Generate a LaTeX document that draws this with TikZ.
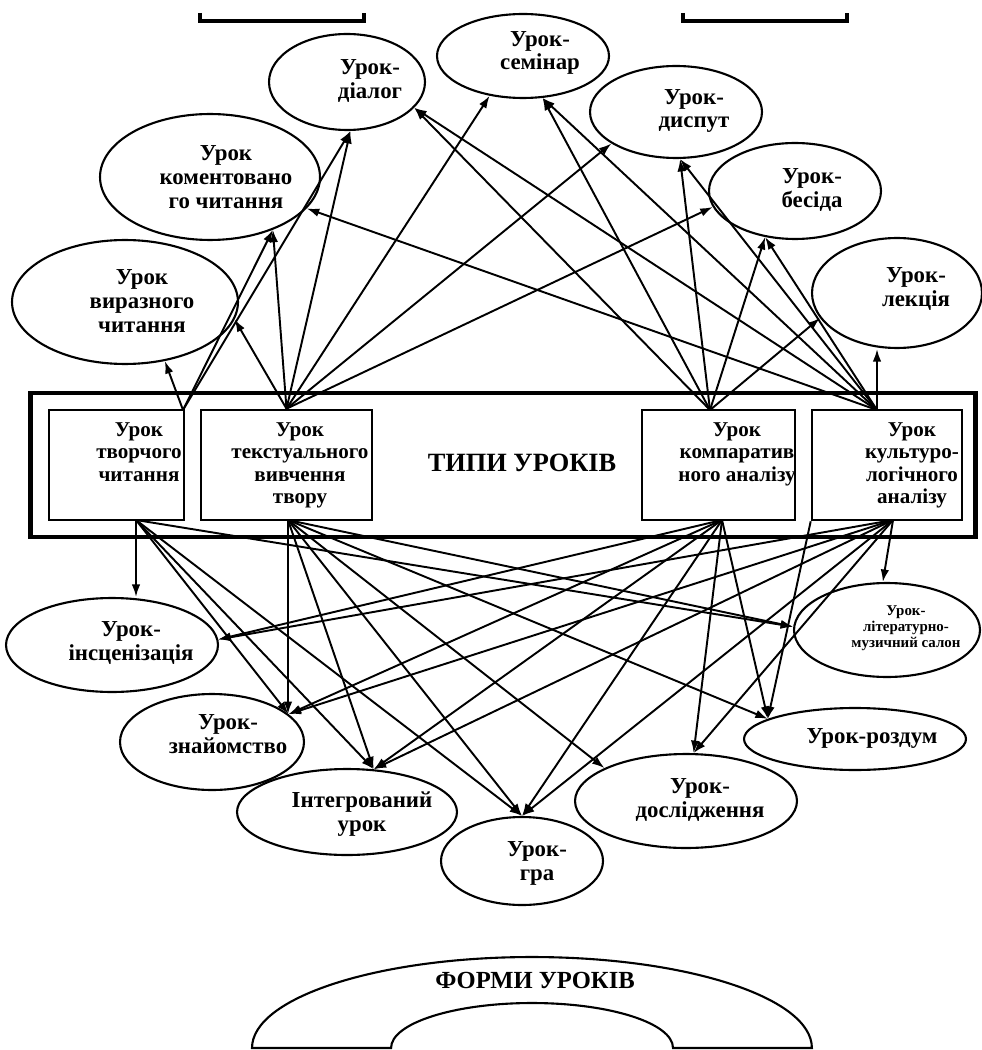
\documentclass[tikz,border=0pt]{standalone}
\usepackage{fontspec}
\setmainfont{Liberation Serif}
\usetikzlibrary{shapes.geometric}
\usetikzlibrary{arrows.meta}

\begin{document}
\begin{tikzpicture}[x=0.02cm,y=-0.02cm,
    form/.style={draw,ellipse,line width=1.2pt,inner sep=0pt},
    typebox/.style={draw,rectangle,line width=1.5pt,inner sep=0pt,minimum height=2.2cm},
    lbl/.style={font=\bfseries\fontsize{13}{13.6}\selectfont,align=center,inner sep=0pt},
    boxlbl/.style={font=\bfseries\fontsize{12}{12.8}\selectfont,align=center,anchor=north,inner sep=0pt},
    link/.style={line width=1.1pt,-{Latex[length=2.5mm,width=1.7mm]}}]
    \useasboundingbox (0,0) rectangle (981,1050);

    % cut-off frames at the top
    \draw[line width=2.2pt] (200,13) -- (200,21) -- (364,21) -- (364,13);
    \draw[line width=2.2pt] (683,13) -- (683,21) -- (847,21) -- (847,13);

    % types of lessons
    \node[draw,line width=2.8pt,minimum width=18.92cm,minimum height=2.88cm] (types) at (503,465) {};
    \node[typebox,minimum width=2.7cm] (tvor) at (116.5,465) {};
    \node[typebox,minimum width=3.42cm] (tekst) at (286.5,465) {};
    \node[typebox,minimum width=3.06cm] (komp) at (718.5,465) {};
    \node[typebox,minimum width=3cm] (kult) at (887,465) {};
    \node[boxlbl] (tvor-t) at (139,422) {Урок\\творчого\\читання};
    \node[boxlbl] (tekst-t) at (300,422) {Урок\\текстуального\\вивчення\\твору};
    \node[boxlbl] (komp-t) at (737,422) {Урок\\компаратив\\ного аналізу};
    \node[boxlbl] (kult-t) at (912,422) {Урок\\культуро-\\логічного\\аналізу};
    \node[font=\bfseries\fontsize{15}{16}\selectfont] (types-t) at (522,463) {ТИПИ УРОКІВ};

    % upper forms
    \node[form,minimum width=3.44cm,minimum height=1.68cm] (semin) at (523,56) {};
    \node[form,minimum width=3.12cm,minimum height=1.92cm] (dialog) at (347,82) {};
    \node[form,minimum width=3.44cm,minimum height=1.84cm] (disput) at (676,112) {};
    \node[form,minimum width=4.4cm,minimum height=2.52cm] (koment) at (210,177) {};
    \node[form,minimum width=3.44cm,minimum height=1.92cm] (besida) at (795,191) {};
    \node[form,minimum width=4.52cm,minimum height=2.48cm] (virazn) at (125,302) {};
    \node[form,minimum width=3.4cm,minimum height=2.2cm] (lekciya) at (897,293) {};
    \node[lbl] (semin-t) at (540,53) {Урок-\\семінар};
    \node[lbl] (dialog-t) at (370,81) {Урок-\\діалог};
    \node[lbl] (disput-t) at (694,111) {Урок-\\диспут};
    \node[lbl] (koment-t) at (226,177) {Урок\\коментовано\\го читання};
    \node[lbl] (besida-t) at (812,190) {Урок-\\бесіда};
    \node[lbl] (virazn-t) at (142,301) {Урок\\виразного\\читання};
    \node[lbl] (lekciya-t) at (916,289) {Урок-\\лекція};

    % lower forms
    \node[form,minimum width=4.24cm,minimum height=1.88cm] (insc) at (112,645) {};
    \node[form,minimum width=3.68cm,minimum height=1.92cm] (znay) at (212,742) {};
    \node[form,minimum width=4.4cm,minimum height=1.72cm] (integ) at (347,812) {};
    \node[form,minimum width=3.24cm,minimum height=1.76cm] (gra) at (522,861) {};
    \node[form,minimum width=4.44cm,minimum height=1.88cm] (dosl) at (686,801) {};
    \node[form,minimum width=4.44cm,minimum height=1.24cm] (rozdum) at (855,739) {};
    \node[form,minimum width=3.72cm,minimum height=1.88cm] (salon) at (887,630) {};
    \node[lbl] (insc-t) at (131,643) {Урок-\\інсценізація};
    \node[lbl] (znay-t) at (228,734) {Урок-\\знайомство};
    \node[lbl] (integ-t) at (362,814) {Інтегрований\\урок};
    \node[lbl] (gra-t) at (537,863) {Урок-\\гра};
    \node[lbl] (dosl-t) at (700,800) {Урок-\\дослідження};
    \node[lbl] (rozdum-t) at (872,738) {Урок-роздум};
    \node[lbl,font=\bfseries\fontsize{8.5}{9}\selectfont] (salon-t) at (906,628) {Урок-\\літературно-\\музичний салон};

    % where the connectors leave the boxes
    \coordinate (tvorT) at (183,410);
    \coordinate (tekstT) at (tekst.north);
    \coordinate (kompT) at (710,410);
    \coordinate (kultT) at (877,410);
    \coordinate (tvorB) at (136,520);
    \coordinate (tekstB) at (288,520);
    \coordinate (kompB) at (722,520);
    \coordinate (kultB) at (893,520);

    % upper connectors
    \foreach \t in {virazn.-56,koment.-40,dialog.-86}
        \draw[link] (tvorT) -- (\t);
    \foreach \t in {virazn.-9,koment.-40,dialog.-86,semin.-130,disput.-154,besida.-169}
        \draw[link] (tekstT) -- (\t);
    \foreach \t in {dialog.-21,semin.-65,disput.-85,besida.-123,lekciya.-162}
        \draw[link] (kompT) -- (\t);
    \foreach \t in {koment.-18,dialog.-21,semin.-65,disput.-85,besida.-123}
        \draw[link] (kultT) -- (\t);
    \draw[link] (kultT) -- (kultT |- lekciya.south);

    % lower connectors
    \draw[link] (tvorB) -- (tvorB |- insc.north);
    \foreach \t in {znay.20,integ.58,gra.north,salon.178}
        \draw[link] (tvorB) -- (\t);
    \draw[link] (tekstB) -- (tekstB |- znay.20);
    \foreach \t in {integ.58,gra.north,dosl.158,rozdum.167,salon.178}
        \draw[link] (tekstB) -- (\t);
    \foreach \t in {insc.3,znay.20,integ.58,gra.north,dosl.81,rozdum.167}
        \draw[link] (kompB) -- (\t);
    \foreach \t in {insc.3,znay.20,integ.58,gra.north,dosl.81}
        \draw[link] (kultB) -- (\t);
    \draw[link] (kultB) -- (salon.95);
    \draw[link] (kult.south west) -- (rozdum.167);

    % forms of lessons
    \draw[line width=1.2pt] (252,1048) arc[start angle=180,end angle=0,x radius=5.6cm,y radius=1.82cm]
        -- (673,1048) arc[start angle=0,end angle=180,x radius=2.82cm,y radius=0.9cm] -- cycle;
    \node[font=\bfseries\fontsize{14}{15}\selectfont] (forms-t) at (535,980) {ФОРМИ УРОКІВ};
\end{tikzpicture}
\end{document}
